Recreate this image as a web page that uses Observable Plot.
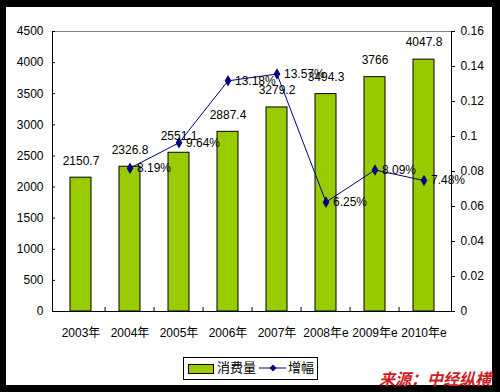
<!DOCTYPE html>
<html>
<head>
<meta charset="utf-8">
<script src="https://cdn.jsdelivr.net/npm/d3@7"></script>
<script src="https://cdn.jsdelivr.net/npm/@observablehq/plot@0.6"></script>
<style>
  html, body { margin: 0; padding: 0; background: black; }
  #wrap { position: relative; width: 500px; height: 392px; background: black; overflow: hidden;
          font-family: "Liberation Sans", Arial, "Noto Sans CJK SC", sans-serif; }
  #inner { position: absolute; left: 6px; top: 7px; width: 486px; height: 378px; background: white; }
  #chart { position: absolute; left: 0; top: 0; }
  #legend { position: absolute; left: 183px; top: 357px; width: 133px; height: 21px; border: 1px solid black;
            background: white; font-size: 13px; color: black; }
  #legend .sw { position: absolute; left: 4px; top: 6px; width: 24px; height: 8px; background: #99cc00; border: 1px solid black; }
  #legend .t1 { position: absolute; left: 33px; top: 2px; line-height: 16px; }
  #legend svg { position: absolute; left: 75px; top: 4px; }
  #legend .t2 { position: absolute; left: 104px; top: 2px; line-height: 16px; }
  #source { position: absolute; left: 379px; top: 368px; font-size: 16px; font-weight: bold; font-style: italic;
            color: #cc1f1f; font-family: "Noto Sans CJK SC", sans-serif; line-height: 20px; white-space: nowrap; }
</style>
</head>
<body>
<div id="wrap">
  <div id="inner"></div>
  <div id="chart"></div>
  <div id="legend">
    <div class="sw"></div>
    <div class="t1">消费量</div>
    <svg width="28" height="12"><line x1="0" y1="6" x2="27" y2="6" stroke="#000080" stroke-width="1"/><path d="M14,2.5L17.5,6L14,9.5L10.5,6Z" fill="#000080"/></svg>
    <div class="t2">增幅</div>
  </div>
  <div id="source">来源：中经纵横</div>
</div>
<script>
const years = ["2003年","2004年","2005年","2006年","2007年","2008年e","2009年e","2010年e"];
const consumption = [2150.7, 2326.8, 2551.1, 2887.4, 3279.2, 3494.3, 3766, 4047.8];
const consumptionLabels = ["2150.7","2326.8","2551.1","2887.4","3279.2","3494.3","3766","4047.8"];
const growth = [null, 0.0819, 0.0964, 0.1318, 0.1357, 0.0625, 0.0809, 0.0748];
const growthLabels = ["", "8.19%", "9.64%", "13.18%", "13.57%", "6.25%", "8.09%", "7.48%"];
const leftTicks = [0, 500, 1000, 1500, 2000, 2500, 3000, 3500, 4000, 4500];
const rightTicks = [0, 0.02, 0.04, 0.06, 0.08, 0.1, 0.12, 0.14, 0.16];
const rightTickLabels = ["0", "0.02", "0.04", "0.06", "0.08", "0.1", "0.12", "0.14", "0.16"];

const leftMax = 4500, rightMax = 0.16;
const ratio = leftMax / rightMax;

const bars = years.map((y, i) => ({year: y, value: consumption[i], label: consumptionLabels[i]}));
const line = years.map((y, i) => ({year: y, g: growth[i], label: growthLabels[i]})).filter(d => d.g != null)
  .map(d => ({...d, v: d.g * ratio}));

const W = 500, H = 392, mL = 52, mR = 49, mT = 31, mB = 81;
const step = (W - mL - mR) / years.length;
const tickLen = 4 * leftMax / (H - mT - mB);

const chart = Plot.plot({
  width: W, height: H,
  marginLeft: mL, marginRight: mR, marginTop: mT, marginBottom: mB,
  style: {background: "transparent", fontFamily: '"Liberation Sans", Arial, "Noto Sans CJK SC", sans-serif', fontSize: "12px", color: "black"},
  x: {domain: years, paddingInner: 0.58, paddingOuter: 0.29, label: null},
  y: {domain: [0, leftMax], label: null},
  marks: [
    Plot.barY(bars, {x: "year", y: "value", fill: "#99cc00", stroke: "black", strokeWidth: 1}),
    Plot.frame({stroke: "black"}),
    Plot.ruleY([leftMax], {stroke: "#808080"}),
    Plot.ruleY(leftTicks, {stroke: "black", insetRight: W - mL - mR - 3}),
    Plot.ruleX(years.slice(1), {x: d => d, dx: -step / 2, y1: 0, y2: tickLen, stroke: "black"}),
    Plot.axisY(leftTicks, {anchor: "left", tickSize: 0, tickPadding: 9, tickFormat: d => String(d), label: null}),
    Plot.axisY(rightTicks.map(v => v * ratio), {anchor: "right", tickSize: 3, tickPadding: 6,
      tickFormat: (d, i) => rightTickLabels[i], label: null}),
    Plot.axisX({tickSize: 0, tickPadding: 17, label: null}),
    Plot.line(line, {x: "year", y: "v", stroke: "#000080", strokeWidth: 1}),
    Plot.dot(line, {x: "year", y: "v", symbol: "diamond", r: 3.5, fill: "#000080", stroke: "none"}),
    Plot.text(bars, {x: "year", y: "value", text: "label", dy: -17, fill: "black"}),
    Plot.text(line, {x: "year", y: "v", text: "label", dx: 7, textAnchor: "start", fill: "black"})
  ]
});
document.getElementById("chart").appendChild(chart);
</script>
</body>
</html>
